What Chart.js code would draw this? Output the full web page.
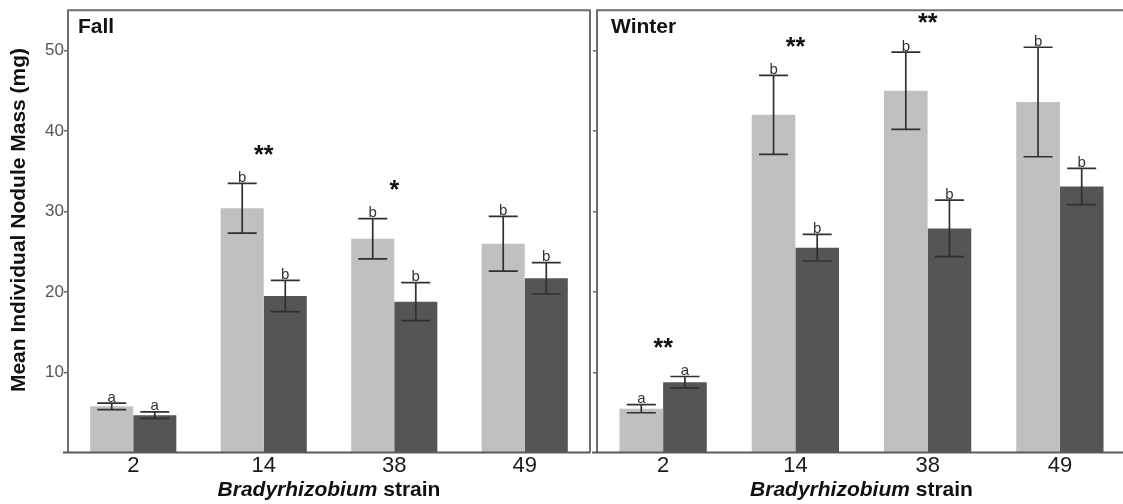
<!DOCTYPE html>
<html>
<head>
<meta charset="utf-8">
<script src="https://cdn.jsdelivr.net/npm/chart.js@4.4.1/dist/chart.umd.min.js"></script>
<style>
  html, body { margin: 0; padding: 0; background: #fff; overflow: hidden; width: 1123px; height: 504px; }
  #fallChart { position: absolute; left: 0; top: 0; }
  #winterChart { position: absolute; left: 561px; top: 0; }
</style>
</head>
<body>
<canvas id="fallChart" width="594" height="504"></canvas>
<canvas id="winterChart" width="565" height="504"></canvas>
<script>
/* ================= DATA ================= */
const strains = ["2", "14", "38", "49"];
const yTicks = [10, 20, 30, 40, 50];

const fallLight = [5.8, 30.4, 26.6, 26.0];
const fallLightErr = [0.4, 3.1, 2.5, 3.4];
const fallLightLetters = ["a", "b", "b", "b"];
const fallDark = [4.7, 19.5, 18.8, 21.7];
const fallDarkErr = [0.4, 1.95, 2.35, 1.95];
const fallDarkLetters = ["a", "b", "b", "b"];
const fallStars = ["", "**", "*", ""];

const winterLight = [5.5, 42.0, 45.0, 43.6];
const winterLightErr = [0.5, 4.9, 4.8, 6.8];
const winterLightLetters = ["a", "b", "b", "b"];
const winterDark = [8.8, 25.5, 27.9, 33.1];
const winterDarkErr = [0.7, 1.65, 3.5, 2.25];
const winterDarkLetters = ["a", "b", "b", "b"];
const winterStars = ["**", "**", "**", ""];

const FONT = '"Liberation Sans", Arial, Helvetica, sans-serif';

/* ================= EXTRAS PLUGIN ================= */
const extrasPlugin = {
  id: "extras",
  afterDatasetsDraw(chart, args, opts) {
    const ctx = chart.ctx;
    const y = chart.scales.y;
    const x = chart.scales.x;

    ctx.save();
    ctx.strokeStyle = "#303030";
    ctx.lineWidth = 1.7;
    ctx.fillStyle = "#333";
    ctx.font = `15px ${FONT}`;
    ctx.textAlign = "center";
    ctx.textBaseline = "alphabetic";

    chart.data.datasets.forEach((ds, di) => {
      const meta = chart.getDatasetMeta(di);
      meta.data.forEach((bar, i) => {
        const v = ds.data[i];
        const e = ds.errors[i];
        const yTop = y.getPixelForValue(v + e);
        const yBot = y.getPixelForValue(v - e);
        const cap = 14.5;
        ctx.beginPath();
        ctx.moveTo(bar.x, yTop);
        ctx.lineTo(bar.x, yBot);
        ctx.moveTo(bar.x - cap, yTop);
        ctx.lineTo(bar.x + cap, yTop);
        ctx.moveTo(bar.x - cap, yBot);
        ctx.lineTo(bar.x + cap, yBot);
        ctx.stroke();
        ctx.fillText(ds.letters[i], bar.x, yTop - 1.5);
      });
    });

    // significance stars above each strain
    ctx.font = `bold 25px ${FONT}`;
    ctx.fillStyle = "#111";
    opts.stars.forEach((s, i) => {
      if (!s) return;
      let top = 0;
      chart.data.datasets.forEach(ds => {
        top = Math.max(top, ds.data[i] + ds.errors[i]);
      });
      const py = y.getPixelForValue(top + 3.45);
      ctx.fillText(s, x.getPixelForValue(i), py + 7);
    });
    ctx.restore();
  },
  afterDraw(chart, args, opts) {
    const ctx = chart.ctx;
    const a = chart.chartArea;
    ctx.save();

    // frame
    ctx.strokeStyle = "#6e6e6e";
    ctx.lineWidth = 2;
    ctx.beginPath();
    ctx.moveTo(a.left, a.bottom);
    ctx.lineTo(a.left, a.top);
    ctx.lineTo(a.right, a.top);
    ctx.lineTo(a.right, a.bottom);
    ctx.stroke();
    ctx.strokeStyle = "#5a5a5a";
    ctx.beginPath();
    ctx.moveTo(a.left - 5, a.bottom - 0.5);
    ctx.lineTo(a.right, a.bottom - 0.5);
    ctx.stroke();

    // panel title
    ctx.fillStyle = "#111";
    ctx.font = `bold 21px ${FONT}`;
    ctx.textAlign = "left";
    ctx.textBaseline = "alphabetic";
    ctx.fillText(opts.title, a.left + opts.titleOffset, 33);

    // y axis title (left panel only)
    if (opts.yTitle) {
      ctx.save();
      ctx.translate(19, 220);
      ctx.rotate(-Math.PI / 2);
      ctx.textAlign = "center";
      ctx.textBaseline = "middle";
      ctx.font = `bold 21px ${FONT}`;
      ctx.fillText(opts.yTitle, 0, 0);
      ctx.restore();
    }

    // x axis title, genus in italics
    const part1 = "Bradyrhizobium ";
    const part2 = "strain";
    ctx.font = `italic bold 21px ${FONT}`;
    const w1 = ctx.measureText(part1).width;
    ctx.font = `bold 21px ${FONT}`;
    const w2 = ctx.measureText(part2).width;
    const cx = (a.left + a.right) / 2;
    const start = cx - (w1 + w2) / 2;
    ctx.font = `italic bold 21px ${FONT}`;
    ctx.fillText(part1, start, 496);
    ctx.font = `bold 21px ${FONT}`;
    ctx.fillText(part2, start + w1, 496);

    ctx.restore();
  }
};

/* ================= PANEL FACTORY ================= */
function makePanel(id, cfg) {
  const ctx = document.getElementById(id).getContext("2d");
  return new Chart(ctx, {
    type: "bar",
    data: {
      labels: strains,
      datasets: [
        {
          label: "Light",
          data: cfg.light,
          errors: cfg.lightErr,
          letters: cfg.lightLetters,
          backgroundColor: "#c0c0c0",
          categoryPercentage: 0.66,
          barPercentage: 1.0
        },
        {
          label: "Dark",
          data: cfg.dark,
          errors: cfg.darkErr,
          letters: cfg.darkLetters,
          backgroundColor: "#555555",
          categoryPercentage: 0.66,
          barPercentage: 1.0
        }
      ]
    },
    options: {
      responsive: false,
      animation: false,
      layout: {
        padding: { left: cfg.padLeft, top: 5, right: cfg.padRight, bottom: 0 }
      },
      plugins: {
        legend: { display: false },
        tooltip: { enabled: false },
        extras: {
          stars: cfg.stars,
          title: cfg.title,
          titleOffset: cfg.titleOffset,
          yTitle: cfg.yTitle
        }
      },
      scales: {
        x: {
          grid: { display: false, drawTicks: false },
          border: { display: false },
          ticks: {
            color: "#1a1a1a",
            padding: 0,
            font: { family: FONT, size: 22 }
          },
          afterFit: scale => { scale.height = 51; }
        },
        y: {
          min: 0,
          max: 55,
          afterBuildTicks: scale => {
            scale.ticks = yTicks.map(v => ({ value: v }));
          },
          grid: {
            display: true,
            drawOnChartArea: false,
            drawTicks: true,
            tickLength: 4,
            color: "#666",
            lineWidth: 1.5
          },
          border: { display: false },
          ticks: {
            padding: 0,
            color: "#555",
            font: { family: FONT, size: 17 },
            callback: value => (cfg.yTitle ? value : "")
          },
          afterFit: scale => { scale.width = cfg.yWidth; }
        }
      }
    },
    plugins: [extrasPlugin]
  });
}

/* ================= INIT ================= */
makePanel("fallChart", {
  title: "Fall",
  titleOffset: 10,
  yTitle: "Mean Individual Nodule Mass (mg)",
  light: fallLight, lightErr: fallLightErr, lightLetters: fallLightLetters,
  dark: fallDark, darkErr: fallDarkErr, darkLetters: fallDarkLetters,
  stars: fallStars,
  padLeft: 7, padRight: 4, yWidth: 61
});

makePanel("winterChart", {
  title: "Winter",
  titleOffset: 14,
  yTitle: "",
  light: winterLight, lightErr: winterLightErr, lightLetters: winterLightLetters,
  dark: winterDark, darkErr: winterDarkErr, darkLetters: winterDarkLetters,
  stars: winterStars,
  padLeft: 0, padRight: 0, yWidth: 36
});
</script>
</body>
</html>
